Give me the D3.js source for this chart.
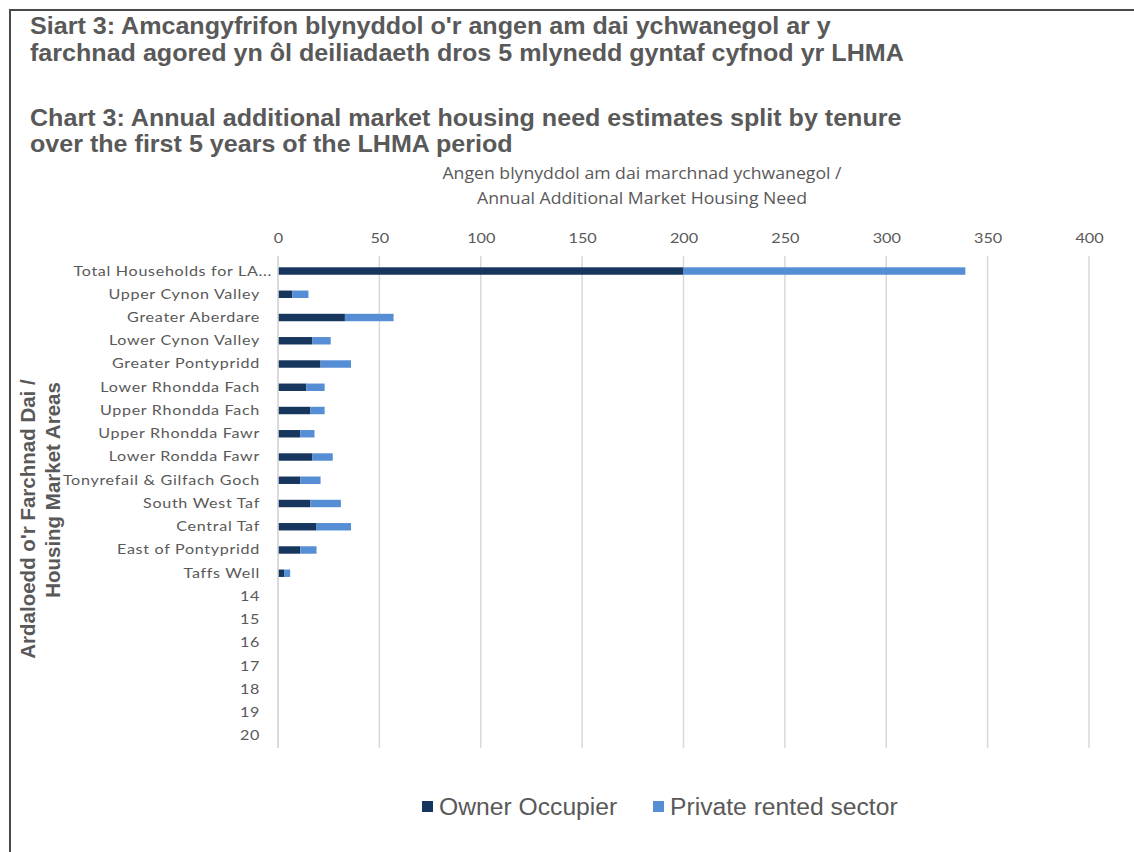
<!DOCTYPE html>
<html>
<head>
<meta charset="utf-8">
<script src="https://cdn.jsdelivr.net/npm/d3@7"></script>
<style>
  html, body { margin: 0; padding: 0; background: #fff; }
  svg { display: block; }
</style>
</head>
<body>
<svg id="chart" width="1134" height="852"></svg>
<script>
// ---- data ----
const categories = [
  "Total Households for LA...", "Upper Cynon Valley", "Greater Aberdare", "Lower Cynon Valley",
  "Greater Pontypridd", "Lower Rhondda Fach", "Upper Rhondda Fach", "Upper Rhondda Fawr",
  "Lower Rondda Fawr", "Tonyrefail & Gilfach Goch", "South West Taf", "Central Taf",
  "East of Pontypridd", "Taffs Well", "14", "15", "16", "17", "18", "19", "20"
];
const ownerOccupier = [200, 7, 33, 17, 21, 14, 16, 11, 17, 11, 16, 19, 11, 3, 0, 0, 0, 0, 0, 0, 0];
const privateRented = [139, 8, 24, 9, 15, 9, 7, 7, 10, 10, 15, 17, 8, 3, 0, 0, 0, 0, 0, 0, 0];
const seriesNames = ["Owner Occupier", "Private rented sector"];
const xTicks = [0, 50, 100, 150, 200, 250, 300, 350, 400];
const titleLines = [
  "Siart 3: Amcangyfrifon blynyddol o'r angen am dai ychwanegol ar y",
  "farchnad agored yn ôl deiliadaeth dros 5 mlynedd gyntaf cyfnod yr LHMA"
];
const subtitleLines = [
  "Chart 3: Annual additional market housing need estimates split by tenure",
  "over the first 5 years of the LHMA period"
];
const xTitleLines = ["Angen blynyddol am dai marchnad ychwanegol /", "Annual Additional Market Housing Need"];
const yTitleLines = ["Ardaloedd o'r Farchnad Dai /", "Housing Market Areas"];

// ---- drawing ----
const svg = d3.select("#chart");
const colors = ["#17365D", "#558ED5"];
const gray = "#595959";

function stretch(sel, f) {
  sel.each(function () {
    const w = this.getComputedTextLength();
    d3.select(this).attr("textLength", w * f).attr("lengthAdjust", "spacingAndGlyphs");
  });
}

// frame
svg.append("rect").attr("x", 10).attr("y", 10).attr("width", 1200).attr("height", 900)
  .attr("fill", "none").attr("stroke", "#4a4a4a").attr("stroke-width", 2);

// titles
const tg = svg.append("g").attr("font-family", "'Liberation Sans', Arial, sans-serif")
  .attr("font-weight", "bold").attr("font-size", 24).attr("fill", gray);
titleLines.forEach((t, i) => tg.append("text").attr("x", 30).attr("y", 34 + i * 27).text(t));
subtitleLines.forEach((t, i) => tg.append("text").attr("x", 30).attr("y", 126 + i * 26).text(t));
stretch(tg.selectAll("text"), 1.045);

const x = d3.scaleLinear().domain([0, 400]).range([278, 1089]);
const y = d3.scaleBand().domain(categories).range([259.4, 747.6]).paddingInner(0.68).paddingOuter(0.34);

// gridlines
svg.append("g").selectAll("line").data(xTicks).join("line")
  .attr("x1", d => x(d)).attr("x2", d => x(d))
  .attr("y1", 256).attr("y2", 748)
  .attr("stroke", "#d9d9d9").attr("stroke-width", 1.5);

// top axis
const xAxis = svg.append("g").attr("transform", "translate(0,243)")
  .call(d3.axisTop(x).tickValues(xTicks).tickSize(0).tickPadding(0));
xAxis.select(".domain").remove();
xAxis.selectAll("text").attr("font-family", "Lato, 'Open Sans', sans-serif")
  .attr("font-size", 14).attr("fill", gray);
stretch(xAxis.selectAll("text"), 1.16);

// axis titles
const xt = svg.append("g").attr("font-family", "'Open Sans', Lato, sans-serif")
  .attr("font-size", 16.5).attr("fill", gray).attr("text-anchor", "middle");
xTitleLines.forEach((t, i) => xt.append("text").attr("x", 642).attr("y", 179 + i * 25).text(t));
stretch(xt.selectAll("text"), 1.07);

const yt = svg.append("g").attr("font-family", "'Liberation Sans', Arial, sans-serif")
  .attr("font-weight", "bold").attr("font-size", 20.5).attr("fill", gray).attr("text-anchor", "middle");
yTitleLines.forEach((t, i) => yt.append("text")
  .attr("transform", `translate(${35 + i * 25},${i === 0 ? 519 : 490}) rotate(-90)`).text(t));

// bars
const stacked = categories.map((c, i) => ({ cat: c, vals: [ownerOccupier[i], privateRented[i]] }));
const barG = svg.append("g");
stacked.forEach(d => {
  let acc = 0;
  d.vals.forEach((v, k) => {
    if (v > 0) {
      barG.append("rect")
        .attr("x", x(acc)).attr("width", x(acc + v) - x(acc))
        .attr("y", y(d.cat)).attr("height", y.bandwidth())
        .attr("fill", colors[k]);
    }
    acc += v;
  });
});

// y axis line
svg.append("line").attr("x1", x(0)).attr("x2", x(0)).attr("y1", 256).attr("y2", 748)
  .attr("stroke", "#d9d9d9").attr("stroke-width", 1.5);

// y axis labels
const yAxis = svg.append("g").attr("transform", "translate(260,0)")
  .call(d3.axisLeft(y).tickSize(0).tickPadding(0));
yAxis.select(".domain").remove();
yAxis.selectAll("text").attr("font-family", "Lato, 'Open Sans', sans-serif")
  .attr("font-size", 14).attr("fill", gray).attr("letter-spacing", 0.6)
  .attr("dx", d => d.endsWith("...") ? 12 : 0);
stretch(yAxis.selectAll("text"), 1.15);

// legend
const lg = svg.append("g").attr("font-family", "'Liberation Sans', Arial, sans-serif")
  .attr("font-size", 23.5).attr("fill", gray);
const legendX = [422, 653];
seriesNames.forEach((s, i) => {
  lg.append("rect").attr("x", legendX[i]).attr("y", 801).attr("width", 11).attr("height", 11).attr("fill", colors[i]);
  lg.append("text").attr("x", legendX[i] + 17).attr("y", 815).text(s);
});
stretch(lg.selectAll("text"), 1.05);
</script>
</body>
</html>
